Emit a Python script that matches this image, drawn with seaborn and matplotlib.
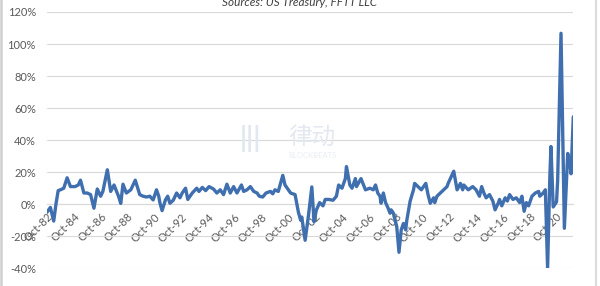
import matplotlib
matplotlib.use("Agg")
import matplotlib.pyplot as plt
import pandas as pd
import seaborn as sns
from matplotlib.ticker import FuncFormatter
from matplotlib.lines import Line2D

# months since Oct-1982 at which values were read
month_index = [0, 3, 6, 8, 10, 12, 15, 18, 21, 25, 28, 30, 33, 36, 39, 42, 45, 48, 50, 54,
               57, 60, 64, 66, 68, 71, 75, 79, 83, 86, 89, 92, 95, 98, 100, 101, 103, 106, 108, 110,
               113, 116, 119, 121, 124, 126, 130, 134, 136, 139, 142, 145, 149, 152, 155, 158, 161, 164, 167, 170,
               174, 176, 179, 182, 185, 188, 190, 193, 196, 200, 202, 204, 207, 209, 211, 213, 215, 218, 222, 225,
               227, 228, 231, 234, 237, 239, 241, 244, 247, 249, 252, 256, 259, 261, 264, 267, 268, 271, 273, 276,
               277, 281, 285, 289, 292, 294, 296, 298, 299, 301, 303, 305, 307, 308, 310, 313, 314, 315, 317, 319,
               321, 322, 325, 328, 329, 332, 335, 339, 341, 343, 346, 347, 349, 352, 355, 358, 359, 364, 366, 367,
               370, 372, 373, 377, 381, 384, 387, 389, 391, 393, 396, 399, 401, 404, 405, 407, 410, 412, 414, 417,
               420, 423, 425, 427, 429, 431, 434, 437, 440, 441, 444, 446, 448, 450, 451, 453, 456, 457, 460, 463,
               466, 468, 469, 471]
growth_pct = [-5, -2, -10.5, 0, 8.5, 9, 10, 16.5, 11, 11, 12, 15, 7, 7, 6, -2.5, 9.5, 5, 8, 21.5,
              8, 12, 5, 0.5, 12.5, 7, 9, 15, 6, 5, 4.5, 5, 2.7, 9, 5, 1, -4, 2.7, 5, 0.6,
              2.5, 7, 4, 7, 10, 3, 7, 10, 8, 10.5, 8.5, 11, 9.5, 7, 9, 6, 12.5, 7, 11, 7,
              12, 8, 9, 11, 8, 7, 5, 4.5, 7, 8, 6.5, 9, 8, 13, 18, 12, 10, 7, 6, -5,
              -10, -8, -22.5, -7, 10.8, -11, -3.7, 1, -1, 3, 3, 2.5, 5, 12, 10, 16, 23.5, 12, 10, 16,
              11, 16, 9, 10, 9, 12, 7, 5, 0.6, 7, 1, -2, -5.6, -3.5, -5.6, -14, -22, -30, -16, -12,
              -16, -10, 2, 9, 13, 11, 9, 13, 6, 0.6, 4, 1, 5, 7, 9, 11, 13, 20.6, 13, 9,
              13, 9, 12, 9, 11, 9, 5, 11, 7, 4, 6, 2, -3.5, 1, 3, -1, 4, 2, 6, 3,
              4, 1, 5, -4.4, 1, -1, 5, 7, 8, 5, 7, 9, -40, 17, 36, -1.7, 1.5, 15, 106.7, -15,
              31.7, 25, 19, 54.6]

tick_labels = ["Oct-82", "Oct-84", "Oct-86", "Oct-88", "Oct-90", "Oct-92", "Oct-94",
               "Oct-96", "Oct-98", "Oct-00", "Oct-02", "Oct-04", "Oct-06", "Oct-08",
               "Oct-10", "Oct-12", "Oct-14", "Oct-16", "Oct-18", "Oct-20"]
y_ticks = [-40, -20, 0, 20, 40, 60, 80, 100, 120]
source_text = "Sources: US Treasury, FFTT LLC"

sns.set_theme(style="white")
plt.rcParams['font.family'] = ['Lato', 'Noto Sans CJK SC', 'DejaVu Sans']

W, H = 600, 286
fig = plt.figure(figsize=(W / 100, H / 100), dpi=100)
fig.patch.set_facecolor("white")
ax = fig.add_axes([47 / W, 1 - 268.3 / H, (573.3 - 47) / W, (268.3 - 12) / H])
ax.set_facecolor("none")

df = pd.DataFrame({"month": month_index, "growth": growth_pct})
sns.lineplot(data=df, x="month", y="growth", ax=ax, color="#3f6fae", linewidth=2.4, zorder=5)
ax.lines[0].set_solid_joinstyle("round")

ax.set_xlim(0, 471)
ax.set_ylim(-40, 120)
ax.set_xlabel("")
ax.set_ylabel("")

ax.grid(axis="y", color="#d9d9d9", linewidth=0.8)
ax.grid(axis="x", visible=False)
for s in ["left", "right", "top"]:
    ax.spines[s].set_visible(False)
ax.spines["bottom"].set_position(("data", 0))
ax.spines["bottom"].set_color("#d9d9d9")
ax.spines["bottom"].set_linewidth(0.8)
ax.tick_params(axis="x", length=3, width=0.8, color="#d9d9d9", labelsize=8,
               labelcolor="#595959", pad=2, direction="out")
ax.tick_params(axis="y", length=0, labelsize=8, labelcolor="#595959", pad=8)

ax.set_yticks(y_ticks)
ax.yaxis.set_major_formatter(FuncFormatter(lambda v, p: f"{v:.0f}%"))
ax.set_xticks(list(range(0, 24 * len(tick_labels), 24)))
ax.set_xticklabels(tick_labels, rotation=45, ha="right", va="top", rotation_mode="anchor",
                   fontsize=8, color="#595959")

# header (cut at the top in the reference)
fig.text(0.5, 1 - 6.5 / H, source_text, ha="center", va="baseline", style="italic",
         color="#404040", fontsize=8.5)

# faint watermark
fig.text(312 / W, 1 - 137 / H, "律动", ha="center", va="center", color="#e4e9f1",
         fontsize=17, family=["Noto Sans CJK SC"], zorder=0)
fig.text(312 / W, 1 - 155 / H, "BLOCKBEATS", ha="center", va="center", color="#eaedf3",
         fontsize=5.5, zorder=0)
fig.text(250 / W, 1 - 138 / H, "|||", ha="center", va="center", color="#e2e8f1",
         fontsize=20, fontweight="bold", zorder=0)

# side borders of the screenshot
fig.add_artist(Line2D([1.2 / W, 1.2 / W], [0, 1], transform=fig.transFigure, color="#cfcfcf", lw=1.8))
fig.add_artist(Line2D([596 / W, 596 / W], [0, 1], transform=fig.transFigure, color="#dcdcdc", lw=1.5))

fig.savefig("out.png", dpi=100, facecolor="white")
